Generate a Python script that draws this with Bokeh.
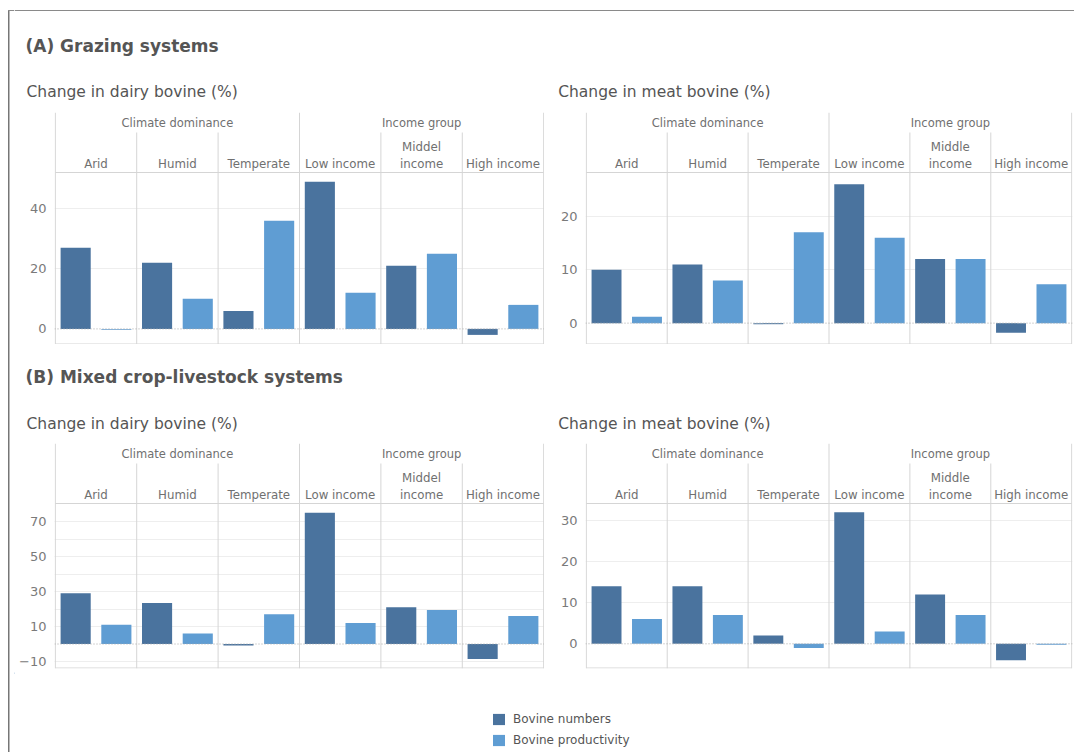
import numpy as np
from bokeh.plotting import figure
from bokeh.models import Range1d, FixedTicker, Span, ColumnDataSource, Legend, LegendItem
from bokeh.layouts import row, column
from bokeh.embed import file_html
from bokeh.resources import INLINE
from bokeh.core.properties import value

# ---------------- data ----------------
groups = ["Climate dominance", "Income group"]
group_sizes = [3, 3]
dairy_categories = ["Arid", "Humid", "Temperate", "Low income", "Middel\nincome", "High income"]
meat_categories = ["Arid", "Humid", "Temperate", "Low income", "Middle\nincome", "High income"]
series = ["Bovine numbers", "Bovine productivity"]

grazing_dairy_numbers = [27, 22, 6, 49, 21, -2]
grazing_dairy_productivity = [-0.3, 10, 36, 12, 25, 8]
grazing_meat_numbers = [10, 11, -0.2, 26, 12, -1.8]
grazing_meat_productivity = [1.2, 8, 17, 16, 12, 7.3]
mixed_dairy_numbers = [29, 23.5, -0.8, 75, 21, -8.5]
mixed_dairy_productivity = [11, 6, 17, 12, 19.5, 16]
mixed_meat_numbers = [14, 14, 2, 32, 12, -4]
mixed_meat_productivity = [6, 7, -1, 3, 7, -0.2]

grazing_dairy_ticks = [0, 20, 40]
grazing_meat_ticks = [0, 10, 20]
mixed_dairy_ticks = [-10, 10, 30, 50, 70]
mixed_dairy_minor_ticks = [-10, 0, 10, 20, 30, 40, 50, 60, 70]
mixed_meat_ticks = [0, 10, 20, 30]

section_titles = ["(A) Grazing systems", "(B) Mixed crop-livestock systems"]
panel_titles = ["Change in dairy bovine (%)", "Change in meat bovine (%)"]

# ---------------- style ----------------
FONT = "DejaVu Sans"
DARK = "#4a739e"
LIGHT = "#5f9dd3"
SEP = "#d5d5d5"
GRID = "#eeeeee"
HDR_TXT = "#707070"
TICK_TXT = "#7a7a7a"
TITLE_TXT = "#555555"
HEADER_PX = 60
TOTAL_W = 1060


def panel(cats, nums, prods, ymin, ymax, ticks, minor, frame_w, frame_h, mb_left, mb_right, mb_bottom):
    n = len(cats)
    data_px = frame_h - HEADER_PX
    yend = ymax + (ymax - ymin) * HEADER_PX / data_px
    pad = 0.01
    p = figure(frame_width=frame_w, frame_height=frame_h,
               x_range=Range1d(-pad, n + pad), y_range=Range1d(ymin, yend),
               x_axis_type=None, toolbar_location=None, output_backend="svg",
               min_border_left=mb_left, min_border_right=mb_right,
               min_border_top=0, min_border_bottom=mb_bottom)
    p.extra_y_ranges = {"px": Range1d(frame_h, 0)}
    p.outline_line_color = None
    p.background_fill_color = "white"
    p.border_fill_color = "white"

    # y axis + grid
    ax = p.yaxis[0]
    ax.ticker = FixedTicker(ticks=ticks, minor_ticks=minor or [])
    ax.axis_line_color = None
    ax.major_tick_line_color = None
    ax.minor_tick_line_color = None
    ax.major_tick_out = 0
    ax.major_tick_in = 0
    ax.minor_tick_out = 0
    ax.minor_tick_in = 0
    ax.major_label_standoff = 8
    ax.major_label_text_font = FONT
    ax.major_label_text_font_size = "13px"
    ax.major_label_text_color = TICK_TXT
    g = p.ygrid[0]
    g.ticker = FixedTicker(ticks=[t for t in ticks if t != 0],
                           minor_ticks=[t for t in (minor or []) if t != 0])
    g.grid_line_color = GRID
    if minor:
        g.minor_grid_line_color = GRID

    idx = np.arange(n)
    # separators
    starts = np.cumsum([0] + group_sizes)
    group_bounds = [int(b) for b in starts]
    sub_bounds = [b for b in range(1, n) if b not in group_bounds]
    p.segment(x0=group_bounds, x1=group_bounds, y0=[0] * len(group_bounds),
              y1=[frame_h] * len(group_bounds), y_range_name="px", line_color=SEP, line_width=1)
    p.segment(x0=sub_bounds, x1=sub_bounds, y0=[20] * len(sub_bounds),
              y1=[frame_h] * len(sub_bounds), y_range_name="px", line_color=SEP, line_width=1)
    p.segment(x0=[0, 0], x1=[n, n], y0=[HEADER_PX, frame_h - 0.5], y1=[HEADER_PX, frame_h - 0.5],
              y_range_name="px", line_color=SEP, line_width=1)

    # header text
    gx = [(starts[i] + starts[i + 1]) / 2 for i in range(len(groups))]
    p.text(x=gx, y=[10.5] * len(groups), text=groups, y_range_name="px",
           text_align="center", text_baseline="middle", text_font=value(FONT),
           text_font_size="11.5px", text_color=HDR_TXT)
    xs, ys, ts = [], [], []
    for cx, lab in zip(idx + 0.5, cats):
        for k, t in enumerate(reversed(lab.split("\n"))):
            xs.append(cx)
            ys.append(51.5 - 17 * k)
            ts.append(t)
    p.text(x=xs, y=ys, text=ts, y_range_name="px", text_align="center",
           text_baseline="middle", text_font=value(FONT), text_font_size="11.8px",
           text_color=HDR_TXT)

    # bars
    src = ColumnDataSource(dict(xn=idx + 0.25, xp=idx + 0.75, num=nums, prod=prods))
    p.vbar(x="xn", top="num", bottom=0, width=0.37, source=src, fill_color=DARK, line_color=None)
    p.vbar(x="xp", top="prod", bottom=0, width=0.37, source=src, fill_color=LIGHT, line_color=None)

    p.add_layout(Span(location=0, dimension="width", line_color="#a9a9a9",
                      line_dash="1 2", line_width=1))
    return p


def strip(h, w=TOTAL_W):
    s = figure(width=w, height=h, x_range=Range1d(0, w), y_range=Range1d(h, 0),
               x_axis_type=None, y_axis_type=None, toolbar_location=None,
               output_backend="svg", min_border_left=0, min_border_right=0,
               min_border_top=0, min_border_bottom=0)
    s.outline_line_color = None
    s.background_fill_color = "white"
    s.border_fill_color = "white"
    return s


def titles(s, sec, y_sec, y_panel):
    s.text(x=[11], y=[y_sec], text=[sec], text_font=value(FONT), text_font_size="17px",
           text_font_style="bold", text_color=TITLE_TXT, text_baseline="middle")
    s.text(x=[12, 543.7], y=[y_panel, y_panel], text=panel_titles, text_font=value(FONT),
           text_font_size="15.5px", text_color=TITLE_TXT, text_baseline="middle")


# left border strip
left = figure(width=14, height=752, x_range=Range1d(0, 14), y_range=Range1d(752, 0),
              x_axis_type=None, y_axis_type=None, toolbar_location=None,
              output_backend="svg", min_border_left=0, min_border_right=0,
              min_border_top=0, min_border_bottom=0)
left.outline_line_color = None
left.border_fill_color = "white"
left.background_fill_color = "white"
left.segment(x0=[8.25], x1=[8.25], y0=[10], y1=[752], line_color="#767676", line_width=1.5)
left.segment(x0=[7.5], x1=[14], y0=[10], y1=[10], line_color="#8a8a8a", line_width=1)

# section A
sA = strip(112)
sA.segment(x0=[0], x1=[TOTAL_W], y0=[10], y1=[10], line_color="#8a8a8a", line_width=1)
titles(sA, section_titles[0], 45, 91.5)

fAL = panel(dairy_categories, grazing_dairy_numbers, grazing_dairy_productivity,
            -5.2, 52.1, grazing_dairy_ticks, None, 490, 232, 40, 0, 0)
fAR = panel(meat_categories, grazing_meat_numbers, grazing_meat_productivity,
            -4.0, 28.2, grazing_meat_ticks, None, 487, 232, 41, 2, 0)

# section B
sB = strip(99)
titles(sB, section_titles[1], 32, 79.3)

fBL = panel(dairy_categories, mixed_dairy_numbers, mixed_dairy_productivity,
            -14.0, 80.3, mixed_dairy_ticks, mixed_dairy_minor_ticks, 490, 225, 40, 0, 4)
fBR = panel(meat_categories, mixed_meat_numbers, mixed_meat_productivity,
            -6.0, 34.1, mixed_meat_ticks, None, 487, 225, 41, 2, 4)

# legend
lg = strip(80)
r1 = lg.vbar(x=[-100], top=[1], width=1, fill_color=DARK, line_color=None)
r2 = lg.vbar(x=[-100], top=[1], width=1, fill_color=LIGHT, line_color=None)
legend = Legend(items=[LegendItem(label=series[0], renderers=[r1]),
                       LegendItem(label=series[1], renderers=[r2])],
                location=(477, 5), orientation="vertical", glyph_width=15, glyph_height=14,
                label_height=14, label_standoff=7, spacing=7, padding=0, margin=0,
                border_line_color=None, background_fill_alpha=0,
                label_text_font=FONT, label_text_font_size="12px", label_text_color="#555555")
lg.add_layout(legend)

root = row(left, column(sA, row(fAL, fAR), sB, row(fBL, fBR), lg))

open("out.html", "w").write(file_html(root, INLINE))
